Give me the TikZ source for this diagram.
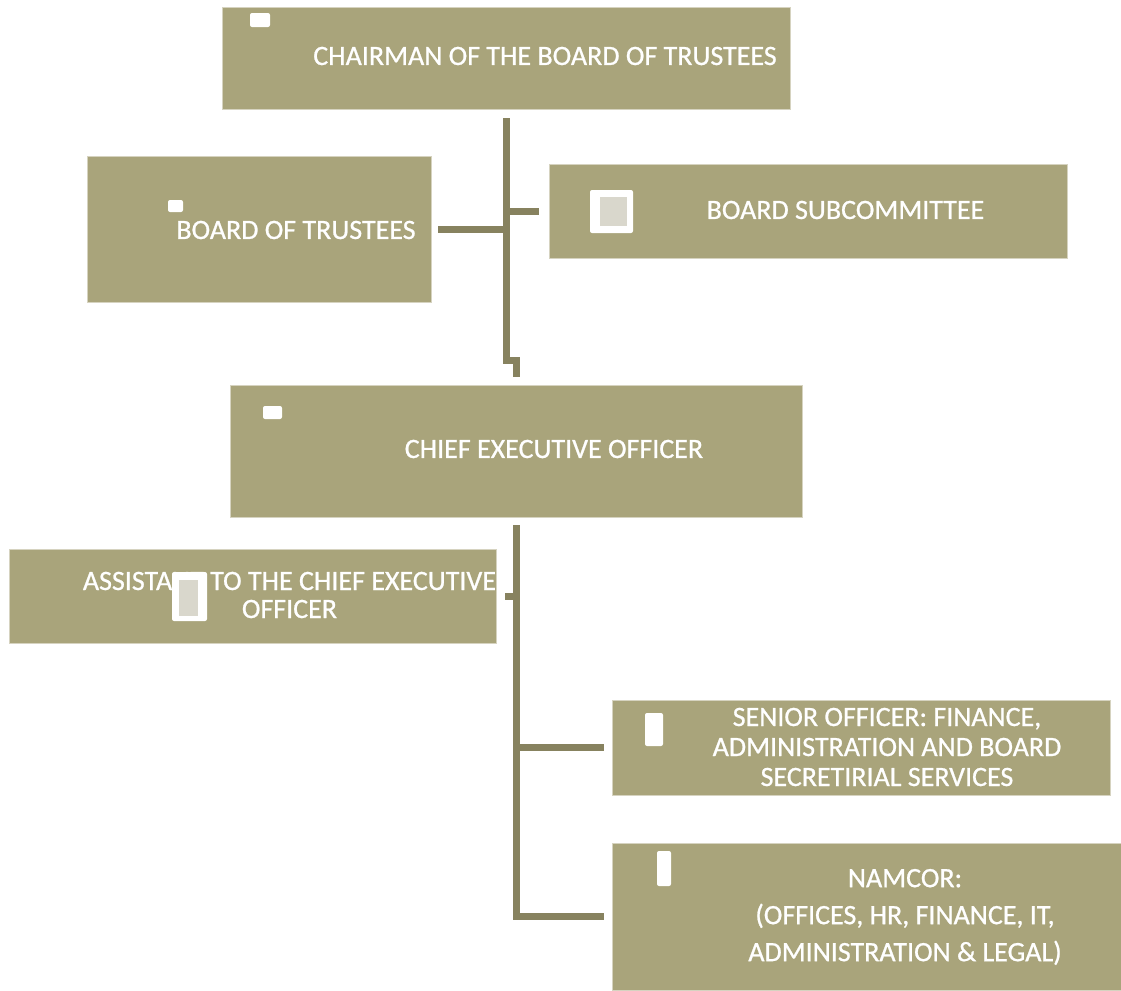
\documentclass[tikz,border=0pt]{standalone}
\usepackage{fontspec}
\setmainfont{Carlito}[BoldFont=Carlito,BoldFeatures={FakeBold=0.8}]
\usepackage{tikz}

\definecolor{boxolive}{RGB}{169,164,123}
\definecolor{linkolive}{RGB}{135,130,95}
\definecolor{boxrim}{RGB}{214,211,192}
\definecolor{icongrey}{RGB}{217,215,204}

\begin{document}
\begin{tikzpicture}[x=0.75pt,y=0.75pt,yscale=-1,xscale=1,
  box/.style={fill=boxolive,draw=boxrim,line width=0.6pt,inner sep=0pt},
  txt/.style={text=white,font=\fontsize{21}{21}\selectfont\bfseries,align=center,inner sep=0pt},
  link/.style={draw=linkolive,line width=5.25pt},
  icon/.style={fill=white,rounded corners=1.5pt},
  iconin/.style={fill=icongrey}]
\useasboundingbox (0,0) rectangle (1121,990);

%Shape: Rectangle
\node[box,minimum width=426pt,minimum height=76.5pt] (chair) at (506,58) {};
%Shape: Rectangle
\node[box,minimum width=258pt,minimum height=109.5pt] (trustees) at (259,229) {};
%Shape: Rectangle
\node[box,minimum width=388.5pt,minimum height=70.5pt] (subcom) at (808,211) {};
%Shape: Rectangle
\node[box,minimum width=429pt,minimum height=99pt] (ceo) at (516,451) {};
%Shape: Rectangle
\node[box,minimum width=365.25pt,minimum height=70.5pt] (assist) at (252.5,596) {};
%Shape: Rectangle
\node[box,minimum width=373.5pt,minimum height=71.25pt] (senior) at (861,747.5) {};
%Shape: Rectangle
\node[box,minimum width=381.75pt,minimum height=110.25pt] (namcor) at (866.5,916.5) {};

%Straight Lines
\draw[link,shorten <=6.75pt,shorten >=6pt] (chair.south) -- ++(0,251) -| (ceo.north);
\draw[link,shorten <=5.25pt] (trustees.east) -- (trustees.east -| chair.south);
\draw[link,shorten <=7.5pt] (subcom.west) -- (subcom.west -| chair.south);
%Straight Lines
\draw[link,shorten <=6pt,shorten >=6pt] (ceo.south) |- (namcor.west);
\draw[link,shorten <=6pt] (senior.west) -- (senior.west -| ceo.south);
\draw[link,shorten <=6.75pt] (assist.east) -- (assist.east -| ceo.south);

% Text Node
\node[txt] (chairtext) at (545,56) {CHAIRMAN OF THE BOARD OF TRUSTEES};
% Text Node
\node[txt] (trusteestext) at (296,230) {BOARD OF TRUSTEES};
% Text Node
\node[txt] (subcomtext) at (845.5,210) {BOARD SUBCOMMITTEE};
% Text Node
\node[txt] (ceotext) at (554,449) {CHIEF EXECUTIVE OFFICER};
% Text Node
\node[txt] (assisttext) at (289.5,595) {ASSISTANT TO THE CHIEF EXECUTIVE\\OFFICER};
% Text Node
\node[txt,font=\fontsize{21}{22.5}\selectfont\bfseries] (seniortext) at (887,747) {SENIOR OFFICER: FINANCE,\\ADMINISTRATION AND BOARD\\SECRETIRIAL SERVICES};
% Text Node
\node[txt,font=\fontsize{21}{27.75}\selectfont\bfseries] (namcortext) at (905,917) {NAMCOR:\\(OFFICES, HR, FINANCE, IT,\\ADMINISTRATION \& LEGAL)};

%Shape: Picture placeholders
\fill[icon] (250,13) rectangle (270,27);
\fill[icon] (168,200) rectangle (183,212);
\fill[icon] (590,190) rectangle (633,233);
\fill[iconin] (600,197) rectangle (627,226);
\fill[icon] (263,406) rectangle (282,419);
\fill[icon] (172,572) rectangle (207,621);
\fill[iconin] (179,580) rectangle (198,616);
\fill[icon] (645,713) rectangle (663,746);
\fill[icon] (657,851) rectangle (671,886);
\end{tikzpicture}
\end{document}
